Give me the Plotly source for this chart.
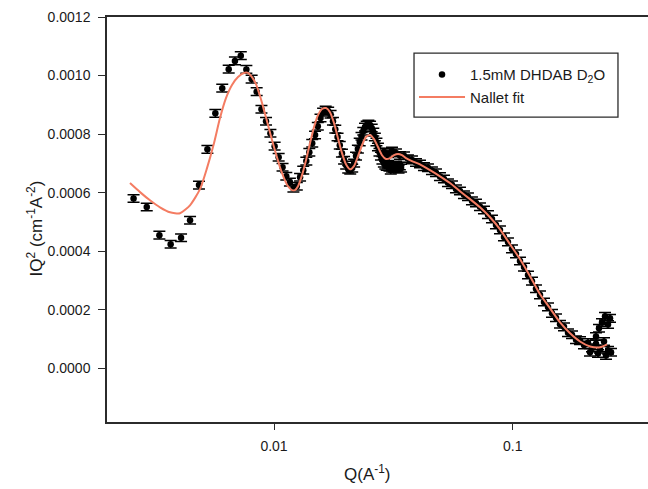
import plotly.graph_objects as go

# ---------------- data ----------------
# Main dataset (low-Q configuration), Q in A^-1, IQ^2 in cm^-1 A^-2
q_low = [0.00258, 0.00293, 0.00331, 0.00369, 0.00408, 0.00445, 0.00485, 0.00526, 0.00568, 0.00607,
         0.00646, 0.00686, 0.00726, 0.00766, 0.00806, 0.00846, 0.00886, 0.00926, 0.00966, 0.01006,
         0.01046, 0.01086, 0.01126, 0.01166, 0.01206, 0.01246, 0.01286, 0.01326, 0.01366, 0.01406,
         0.01446, 0.01486, 0.01526, 0.01566, 0.01606, 0.01646, 0.01686, 0.01726, 0.01766, 0.01806,
         0.01846, 0.01886, 0.01926, 0.01966, 0.02006, 0.02046, 0.02086, 0.02126, 0.02166, 0.02206,
         0.02246, 0.02286, 0.02326, 0.02366, 0.02406, 0.02446, 0.02486, 0.02526, 0.02566, 0.02606,
         0.02646, 0.02686, 0.02726, 0.02766, 0.02806, 0.02846, 0.02886, 0.02926, 0.02966, 0.03006,
         0.03046, 0.03086, 0.03126, 0.03166, 0.03206, 0.03246, 0.03286, 0.03326, 0.03366, 0.03406]
iq2_low = [0.000580, 0.000551, 0.000455, 0.000424, 0.000446, 0.000506, 0.000626, 0.000748, 0.000871, 0.000957,
           0.001022, 0.001050, 0.001068, 0.001021, 0.000988, 0.000945, 0.000885, 0.000844, 0.000803, 0.000759,
           0.000721, 0.000687, 0.000656, 0.000636, 0.000615, 0.000622, 0.000653, 0.000677, 0.000708, 0.000738,
           0.000769, 0.000797, 0.000827, 0.000855, 0.000875, 0.000882, 0.000879, 0.000868, 0.000844, 0.000817,
           0.000790, 0.000762, 0.000735, 0.000711, 0.000694, 0.000680, 0.000677, 0.000684, 0.000701, 0.000725,
           0.000749, 0.000773, 0.000793, 0.000810, 0.000824, 0.000831, 0.000834, 0.000831, 0.000821, 0.000807,
           0.000790, 0.000773, 0.000756, 0.000738, 0.000725, 0.000711, 0.000701, 0.000694, 0.000690, 0.000697,
           0.000687, 0.000677, 0.000684, 0.000691, 0.000684, 0.000694, 0.000687, 0.000680, 0.000691, 0.000684]

# High-Q configuration
q_high = [0.02889, 0.03003, 0.03121, 0.03243, 0.03371, 0.03504, 0.03641, 0.03785, 0.03934, 0.04088,
          0.04249, 0.04416, 0.04590, 0.04771, 0.04958, 0.05153, 0.05356, 0.05567, 0.05786, 0.06013,
          0.06250, 0.06496, 0.06751, 0.07017, 0.07293, 0.07580, 0.07878, 0.08188, 0.08510, 0.08845,
          0.09193, 0.09555, 0.09931, 0.10322, 0.10728, 0.11150, 0.11589, 0.12045, 0.12519, 0.13012,
          0.13524, 0.14056, 0.14609, 0.15184, 0.15781, 0.16402, 0.17048, 0.17719, 0.18416, 0.19141,
          0.19894, 0.20677, 0.21490, 0.22336, 0.23215, 0.24128, 0.25078]
iq2_high = [0.000739, 0.000733, 0.000742, 0.000736, 0.000727, 0.000726, 0.000716, 0.000712, 0.000703, 0.000698,
            0.000689, 0.000685, 0.000675, 0.000668, 0.000655, 0.000647, 0.000634, 0.000627, 0.000613, 0.000606,
            0.000593, 0.000586, 0.000572, 0.000565, 0.000552, 0.000541, 0.000525, 0.000510, 0.000490, 0.000473,
            0.000449, 0.000432, 0.000408, 0.000391, 0.000367, 0.000346, 0.000319, 0.000298, 0.000272, 0.000251,
            0.000227, 0.000210, 0.000188, 0.000173, 0.000151, 0.000142, 0.000122, 0.000115, 0.000098, 0.000095,
            0.000080, 0.000088, 0.000070, 0.000084, 0.000066, 0.000092, 0.000062]

# Noisy points at the highest Q
q_tail = [0.21080, 0.22336, 0.22771, 0.22992, 0.23667, 0.24362, 0.24600, 0.25078, 0.25566, 0.25814]
iq2_tail = [0.000055, 0.000109, 0.000051, 0.000137, 0.000157, 0.000178, 0.000044, 0.000150, 0.000171, 0.000055]

iq2_error = 0.000013

# Nallet fit curve
q_fit = [0.002493, 0.002746, 0.003023, 0.003330, 0.003667, 0.004039, 0.004447, 0.004898, 0.005240, 0.005605,
         0.005939, 0.006292, 0.006668, 0.007066, 0.007488, 0.007783, 0.008087, 0.008406, 0.008737, 0.009080,
         0.009438, 0.009809, 0.010195, 0.010596, 0.011013, 0.011445, 0.011896, 0.012246, 0.012606, 0.013103,
         0.013618, 0.014153, 0.014710, 0.015288, 0.015889, 0.016514, 0.017164, 0.017839, 0.018541, 0.019270,
         0.020028, 0.020816, 0.021635, 0.022486, 0.023370, 0.024290, 0.025245, 0.026239, 0.027271, 0.028344,
         0.029459, 0.030618, 0.031822, 0.033074, 0.034376, 0.035728, 0.037855, 0.040891, 0.045034, 0.049601,
         0.054625, 0.060159, 0.066254, 0.072966, 0.080358, 0.088499, 0.097466, 0.10734, 0.11821, 0.13019,
         0.14338, 0.15791, 0.17391, 0.19143, 0.21087, 0.23223, 0.24843]
iq2_fit = [0.000633, 0.000602, 0.000574, 0.000550, 0.000533, 0.000530, 0.000557, 0.000612, 0.000684, 0.000769,
           0.000855, 0.000923, 0.000968, 0.000995, 0.001009, 0.001009, 0.000995, 0.000971, 0.000930, 0.000882,
           0.000831, 0.000780, 0.000732, 0.000687, 0.000650, 0.000622, 0.000609, 0.000609, 0.000622, 0.000660,
           0.000711, 0.000769, 0.000824, 0.000865, 0.000886, 0.000889, 0.000875, 0.000838, 0.000786, 0.000735,
           0.000697, 0.000680, 0.000691, 0.000725, 0.000762, 0.000790, 0.000797, 0.000783, 0.000756, 0.000728,
           0.000715, 0.000718, 0.000728, 0.000732, 0.000728, 0.000718, 0.000708, 0.000697, 0.000677, 0.000656,
           0.000633, 0.000605, 0.000578, 0.000550, 0.000516, 0.000475, 0.000424, 0.000373, 0.000315, 0.000253,
           0.000205, 0.000157, 0.000120, 0.000092, 0.000075, 0.000072, 0.000082]

x_tick_vals = [0.01, 0.1]
x_tick_text = ["0.01", "0.1"]

for a, b in [(q_low, iq2_low), (q_high, iq2_high), (q_tail, iq2_tail), (q_fit, iq2_fit)]:
    if len(a) != len(b):
        raise ValueError("length mismatch")

q_all = q_low + q_high + q_tail
iq2_all = iq2_low + iq2_high + iq2_tail

FONT = "Arial, Liberation Sans, Helvetica, sans-serif"
AX = "#2b2b2b"

fig = go.Figure()
fig.add_trace(go.Scatter(
    x=q_all, y=iq2_all, mode="markers",
    name="1.5mM DHDAB D<sub>2</sub>O",
    marker=dict(color="black", size=6.5),
    error_y=dict(type="constant", value=iq2_error, color="black", thickness=1.5, width=6),
))
fig.add_trace(go.Scatter(
    x=q_fit, y=iq2_fit, mode="lines", name="Nallet fit",
    line=dict(color="#f47c62", width=2, shape="spline", smoothing=0.6),
))

fig.update_layout(
    width=648, height=489,
    margin=dict(l=107, r=0, t=17, b=67),
    paper_bgcolor="white", plot_bgcolor="white",
    font=dict(family=FONT, color="#1a1a1a", size=14),
    showlegend=True,
    legend=dict(x=0.5675, y=0.911, xanchor="left", yanchor="top",
                borderwidth=0, bgcolor="rgba(0,0,0,0)",
                font=dict(size=15, family=FONT), itemwidth=46,
                tracegroupgap=4,
                title=dict(text=" ", font=dict(size=4))),
    shapes=[dict(type="rect", xref="paper", yref="paper",
                 x0=0.5675, x1=0.9445, y0=0.7528, y1=0.911,
                 line=dict(color=AX, width=1.3), fillcolor="rgba(0,0,0,0)")],
    xaxis=dict(type="log", range=[-2.6996, -0.4332],
               tickvals=x_tick_vals, ticktext=x_tick_text,
               ticks="outside", ticklen=6, tickwidth=1.3, tickcolor=AX,
               showline=True, linecolor=AX, linewidth=1.5, mirror=True,
               showgrid=False, zeroline=False, tickfont=dict(size=14),
               ticklabelstandoff=4),
    yaxis=dict(range=[-0.000183, 0.0012], tick0=0, dtick=0.0002, tickformat=".4f",
               ticks="outside", ticklen=7, tickwidth=1.3, tickcolor=AX,
               showline=True, linecolor=AX, linewidth=1.5, mirror=False,
               showgrid=False, zeroline=False, tickfont=dict(size=14),
               ticklabelstandoff=5),
    annotations=[
        dict(text="Q(A<sup>-1</sup>)", xref="paper", yref="paper", x=0.4806, y=-0.1248,
             xanchor="center", yanchor="middle", showarrow=False, font=dict(size=17)),
        dict(text="IQ<sup>2</sup> (cm<sup>-1</sup>A<sup>-2</sup>)", xref="paper", yref="paper",
             x=-0.1331, y=0.478, xanchor="center", yanchor="middle", textangle=-90,
             showarrow=False, font=dict(size=17)),
    ],
)

fig.write_html("out.html", config={"displayModeBar": False},
               post_script="document.body.style.margin='0px';document.body.style.padding='0px';")
